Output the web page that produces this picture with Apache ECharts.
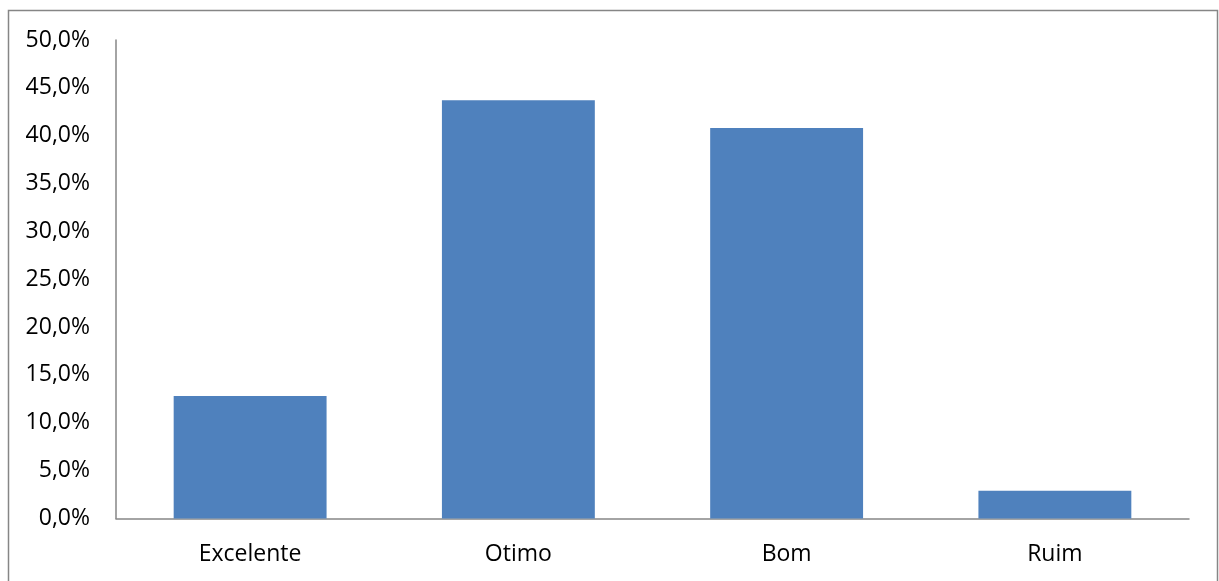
<!DOCTYPE html>
<html>
<head>
<meta charset="utf-8">
<script src="https://cdn.jsdelivr.net/npm/echarts@6/dist/echarts.min.js"></script>
<style>
  html, body { margin: 0; padding: 0; background: #fff; }
  #chart { width: 1219px; height: 581px; }
</style>
</head>
<body>
<div id="chart"></div>
<script>
// Rating categories and their share of answers (percent)
const categories = ['Excelente', 'Otimo', 'Bom', 'Ruim'];
const shares = [12.8, 43.7, 40.8, 2.9];

const chart = echarts.init(document.getElementById('chart'), null, { renderer: 'canvas' });

const labelFont = '"Open Sans", "Noto Sans", sans-serif';

chart.setOption({
  animation: false,
  backgroundColor: '#ffffff',
  graphic: [{
    type: 'rect',
    silent: true,
    shape: { x: 8.5, y: 10.5, width: 1209, height: 600 },
    style: { fill: 'none', stroke: '#868686', lineWidth: 1.5 }
  }],
  grid: { left: 116, right: 30, top: 40, bottom: 62.5 },
  xAxis: {
    type: 'category',
    data: categories,
    axisLine: { lineStyle: { color: '#868686', width: 1.5 } },
    axisTick: { show: false },
    axisLabel: { color: '#000', fontSize: 23, fontFamily: labelFont, margin: 24 }
  },
  yAxis: {
    type: 'value',
    min: 0,
    max: 50,
    interval: 5,
    splitLine: { show: false },
    axisLine: { show: true, lineStyle: { color: '#868686', width: 1.5 } },
    axisTick: { show: false },
    axisLabel: {
      color: '#000', fontSize: 23, fontFamily: labelFont, margin: 26,
      padding: [3, 0, 0, 0],
      formatter: v => v.toFixed(1).replace('.', ',') + '%'
    }
  },
  series: [{
    type: 'bar',
    data: shares,
    barCategoryGap: '43%',
    itemStyle: { color: '#4F81BD' }
  }]
});
</script>
</body>
</html>
